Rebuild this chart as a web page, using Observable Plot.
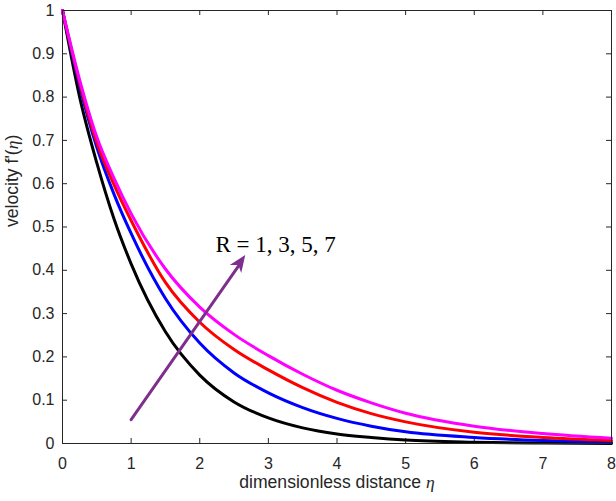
<!DOCTYPE html>
<html><head><meta charset="utf-8">
<script src="https://cdn.jsdelivr.net/npm/d3@7"></script>
<script src="https://cdn.jsdelivr.net/npm/@observablehq/plot@0.6"></script>
<style>body{margin:0;background:#fff}#chart{width:616px;height:501px}</style>
</head><body><div id="chart"></div>
<script>
// ---- data ----
const eta = [0, 0.25, 0.5, 0.75, 1, 1.5, 2, 2.5, 3, 3.5, 4, 4.5, 5, 6, 7, 8];
const fR1 = [1, 0.800, 0.648, 0.519, 0.415, 0.258, 0.158, 0.096, 0.059, 0.036, 0.022, 0.014, 0.008, 0.003, 0.001, 0.000];
const fR3 = [1, 0.825, 0.684, 0.576, 0.485, 0.335, 0.232, 0.163, 0.117, 0.083, 0.058, 0.040, 0.027, 0.014, 0.007, 0.003];
const fR5 = [1, 0.833, 0.695, 0.598, 0.515, 0.372, 0.280, 0.217, 0.170, 0.129, 0.095, 0.069, 0.050, 0.026, 0.014, 0.007];
const fR7 = [1, 0.840, 0.708, 0.613, 0.531, 0.403, 0.315, 0.252, 0.203, 0.160, 0.123, 0.094, 0.070, 0.040, 0.023, 0.012];
const seriesNames  = ["R = 1", "R = 3", "R = 5", "R = 7"];
const seriesColors = ["#000000", "#0000ff", "#ff0000", "#ff00ff"];
const xTicks = [0, 1, 2, 3, 4, 5, 6, 7, 8];
const yTicks = [0, 0.1, 0.2, 0.3, 0.4, 0.5, 0.6, 0.7, 0.8, 0.9, 1];
const xLabel = "dimensionless distance η";
const yLabel = "velocity f'(η)";
const annotationText = "R = 1, 3, 5, 7";
const annotationPos = [2.23, 0.46];
const arrowStart = [1.0, 0.055];
const arrowEnd   = [2.67, 0.434];
const arrowColor = "#7e2f8e";

// ---- build table ----
const seriesVals = [fR1, fR3, fR5, fR7];
const table = [];
seriesNames.forEach((s, i) => eta.forEach((e, j) => table.push({series: s, eta: e, f: seriesVals[i][j]})));

const W = 616, H = 501, mL = 62, mR = 5, mT = 10, mB = 58;
const tickLen = 5;
const tx = tickLen / (W - mL - mR) * 8;   // tick length in x data units
const ty = tickLen / (H - mT - mB) * 1;   // tick length in y data units
const axisColor = "#262626";
const fmt = d3.format("~g");

function arrowHead(index, scales) {
  const x1 = scales.x(arrowStart[0]), y1 = scales.y(arrowStart[1]);
  const x2 = scales.x(arrowEnd[0]), y2 = scales.y(arrowEnd[1]);
  const a = Math.atan2(y2 - y1, x2 - x1);
  const L = 17, Wd = 7, notch = 12;
  const ux = Math.cos(a), uy = Math.sin(a), px = -uy, py = ux;
  const pts = [
    [x2, y2],
    [x2 - L * ux + Wd * px, y2 - L * uy + Wd * py],
    [x2 - notch * ux, y2 - notch * uy],
    [x2 - L * ux - Wd * px, y2 - L * uy - Wd * py]
  ];
  return d3.create("svg:path").attr("d", "M" + pts.map(p => p.join(",")).join("L") + "Z")
    .attr("fill", arrowColor).node();
}

const chart = Plot.plot({
  width: W, height: H,
  marginLeft: mL, marginRight: mR, marginTop: mT, marginBottom: mB,
  style: {fontFamily: "'Liberation Sans', Arial, sans-serif", fontSize: "16px", color: axisColor, background: "white"},
  x: {domain: [0, 8]},
  y: {domain: [0, 1]},
  color: {domain: seriesNames, range: seriesColors},
  marks: [
    Plot.axisX({ticks: xTicks, tickSize: 0, tickPadding: 14, label: null, tickFormat: fmt}),
    Plot.axisY({ticks: yTicks, tickSize: 0, tickPadding: 8, label: null, tickFormat: fmt}),
    // inward ticks on all four sides
    Plot.ruleX(xTicks, {x: d => d, y1: 0, y2: ty, stroke: axisColor}),
    Plot.ruleX(xTicks, {x: d => d, y1: 1 - ty, y2: 1, stroke: axisColor}),
    Plot.ruleY(yTicks, {y: d => d, x1: 0, x2: tx, stroke: axisColor}),
    Plot.ruleY(yTicks, {y: d => d, x1: 8 - tx, x2: 8, stroke: axisColor}),
    Plot.line(table, {x: "eta", y: "f", z: "series", stroke: "series", strokeWidth: 3, curve: "monotone-x"}),
    Plot.frame({stroke: axisColor}),
    Plot.arrow([0], {x1: () => arrowStart[0], y1: () => arrowStart[1], x2: () => arrowEnd[0], y2: () => arrowEnd[1],
      stroke: arrowColor, strokeWidth: 3, headLength: 0, insetEnd: 10}),
    arrowHead,
    Plot.text([annotationText], {x: annotationPos[0], y: annotationPos[1], text: d => d, textAnchor: "start",
      fontFamily: "'Liberation Serif', 'Times New Roman', serif", fontSize: 23, fill: "#000"}),
    Plot.text([xLabel], {frameAnchor: "bottom", dy: 44, text: d => d, fontSize: 17.6, fill: axisColor}),
    Plot.text([yLabel], {frameAnchor: "left", dx: -50, rotate: -90, text: d => d, fontSize: 17.6, fill: axisColor})
  ]
});

// italic serif η in axis labels
chart.querySelectorAll("text").forEach(t => {
  const s = t.textContent;
  if ((s === xLabel || s === yLabel) && s.includes("η")) {
    const parts = s.split("η");
    t.textContent = "";
    parts.forEach((p, i) => {
      if (i > 0) {
        const e = document.createElementNS("http://www.w3.org/2000/svg", "tspan");
        e.setAttribute("font-family", "'Liberation Serif', 'Times New Roman', serif");
        e.setAttribute("font-style", "italic");
        e.textContent = "η";
        t.appendChild(e);
      }
      if (p) t.appendChild(document.createTextNode(p));
    });
  }
});

document.getElementById("chart").appendChild(chart);
</script>
</body></html>
